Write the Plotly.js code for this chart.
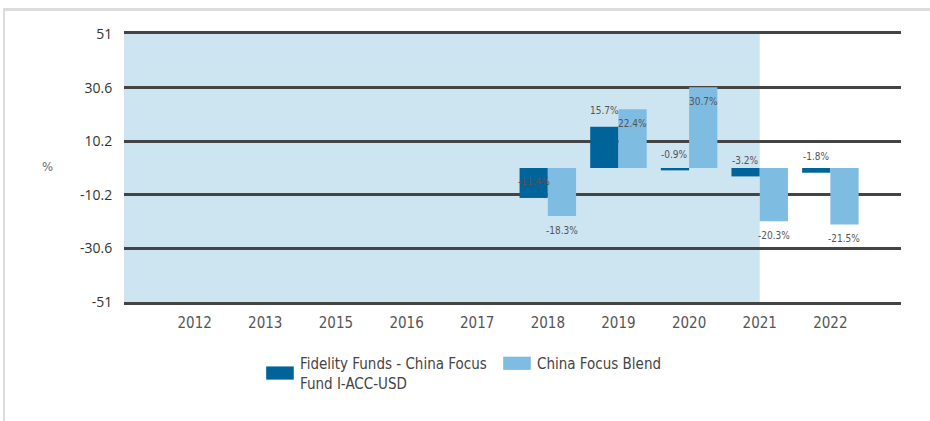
<!DOCTYPE html>
<html>
<head>
<meta charset="utf-8">
<script src="https://cdn.plot.ly/plotly-3.0.1.min.js"></script>
<style>
  html, body { margin: 0; padding: 0; background: #fff; }
  #wrap { position: relative; width: 930px; height: 421px; }
  #chart { width: 930px; height: 421px; }
  #frame { position: absolute; left: 3px; top: 8px; right: 0; bottom: 0;
           border-top: 3px solid #dcdcdc; border-left: 2px solid #dcdcdc; pointer-events: none; }
</style>
</head>
<body>
<div id="wrap">
  <div id="chart"></div>
  <div id="frame"></div>
</div>
<script>
// ---- data ----
const years = ['2012', '2013', '2015', '2016', '2017', '2018', '2019', '2020', '2021', '2022'];
const fundName = 'Fidelity Funds - China Focus<br>Fund I-ACC-USD';
const blendName = 'China Focus Blend';
const fundValues = [null, null, null, null, null, -11.4, 15.7, -0.9, -3.2, -1.8];
const blendValues = [null, null, null, null, null, -18.3, 22.4, 30.7, -20.3, -21.5];
const yTicks = [51, 30.6, 10.2, -10.2, -30.6, -51];
const shadeEndYear = '2021';

// ---- styles ----
const darkBlue = '#00639a';
const lightBlue = '#7fbce2';
const shadeColor = '#cde4f1';
const gridColor = '#444444';
const narrow = '"DejaVu Sans Condensed", "Liberation Sans Narrow", sans-serif';
const bargap = 0.2;
const half = (1 - bargap) / 4;

const traces = [
  { type: 'bar', name: fundName, x: years, y: fundValues, marker: { color: darkBlue }, hoverinfo: 'none' },
  { type: 'bar', name: blendName, x: years, y: blendValues, marker: { color: lightBlue }, hoverinfo: 'none' }
];

const annotations = [];
years.forEach((yr, i) => {
  if (fundValues[i] !== null) {
    annotations.push({ x: i - half, y: fundValues[i], xref: 'x', yref: 'y', text: fundValues[i].toFixed(1) + '%',
      showarrow: false, yanchor: 'middle', yshift: 16, font: { family: narrow, size: 10, color: '#555' } });
  }
  if (blendValues[i] !== null) {
    annotations.push({ x: i + half, y: blendValues[i], xref: 'x', yref: 'y', text: blendValues[i].toFixed(1) + '%',
      showarrow: false, yanchor: 'middle', yshift: -14, font: { family: narrow, size: 10, color: '#555' } });
  }
});
annotations.push({ xref: 'paper', yref: 'paper', x: -0.098, y: 0.504, xanchor: 'center', yanchor: 'middle',
  text: '%', showarrow: false, font: { family: narrow, size: 13, color: '#666' } });

const layout = {
  width: 930, height: 421,
  margin: { l: 124, r: 29, t: 34, b: 119 },
  paper_bgcolor: '#fff', plot_bgcolor: 'rgba(0,0,0,0)',
  barmode: 'group', bargap: bargap, bargroupgap: 0,
  showlegend: true,
  xaxis: {
    type: 'category', range: [-1, years.length], showgrid: false, zeroline: false,
    showline: true, mirror: true, linecolor: gridColor, linewidth: 3,
    ticks: 'outside', ticklen: 5, tickcolor: 'rgba(0,0,0,0)',
    tickfont: { family: narrow, size: 15, color: '#555' }, fixedrange: true
  },
  yaxis: {
    range: [-51, 51], tickvals: yTicks, ticktext: yTicks.map(String),
    showgrid: true, gridcolor: gridColor, gridwidth: 3, zeroline: false, showline: false,
    ticks: 'outside', ticklen: 8, tickcolor: 'rgba(0,0,0,0)',
    tickfont: { family: '"Open Sans", sans-serif', size: 14, color: '#333' }, fixedrange: true
  },
  shapes: [{
    type: 'rect', xref: 'x', yref: 'paper', x0: -1, x1: years.indexOf(shadeEndYear), y0: 0, y1: 1,
    fillcolor: shadeColor, line: { width: 0 }, layer: 'below'
  }],
  legend: {
    orientation: 'h', x: 0.175, xanchor: 'left', y: -0.168, yanchor: 'top',
    font: { family: narrow, size: 15, color: '#444' }, valign: 'middle',
    entrywidth: 192, entrywidthmode: 'pixels',
    traceorder: 'normal', bgcolor: 'rgba(0,0,0,0)'
  },
  annotations: annotations
};

Plotly.newPlot('chart', traces, layout, { displayModeBar: false, staticPlot: true }).then(() => {
  // widen legend swatches to match the wide rectangular keys
  document.querySelectorAll('#chart .legendpoints path').forEach(p => {
    const t = p.getAttribute('transform') || '';
    p.setAttribute('transform', t + ' scale(2.3,1.1)');
    p.style.strokeWidth = '0';
  });
});
</script>
</body>
</html>
